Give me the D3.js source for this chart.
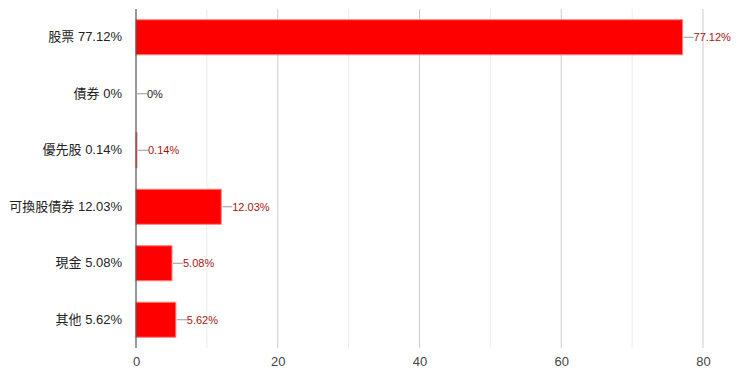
<!DOCTYPE html>
<html>
<head>
<meta charset="utf-8">
<script src="https://cdn.jsdelivr.net/npm/d3@7"></script>
<style>
  body { margin: 0; background: #fff; }
  text { font-family: "Liberation Sans", Arial, "Noto Sans CJK TC", sans-serif; }
</style>
</head>
<body>
<svg></svg>
<script>
// categories and values
var categories = ["股票 77.12%", "債券 0%", "優先股 0.14%", "可換股債券 12.03%", "現金 5.08%", "其他 5.62%"];
var values = [77.12, 0, 0.14, 12.03, 5.08, 5.62];
var valueLabels = ["77.12%", "0%", "0.14%", "12.03%", "5.08%", "5.62%"];
var xTicks = [0, 20, 40, 60, 80];
var minorTicks = [10, 30, 50, 70];

var svgWidth = 740, svgHeight = 377;
var margin = {top: 9, right: 37, bottom: 29, left: 136};

var svg = d3.select("svg")
    .attr("width", svgWidth)
    .attr("height", svgHeight);

var x = d3.scaleLinear()
    .domain([0, 80])
    .range([margin.left, margin.left + 567]);

var y = d3.scaleBand()
    .domain(categories)
    .range([margin.top, svgHeight - margin.bottom])
    .paddingInner(0.38)
    .paddingOuter(0.19);

// gridlines
svg.selectAll("line.minor")
    .data(minorTicks)
    .enter().append("line")
    .attr("x1", function(d) { return x(d); })
    .attr("x2", function(d) { return x(d); })
    .attr("y1", margin.top)
    .attr("y2", svgHeight - margin.bottom)
    .attr("stroke", "#ececec");

svg.selectAll("line.major")
    .data(xTicks.slice(1))
    .enter().append("line")
    .attr("x1", function(d) { return x(d); })
    .attr("x2", function(d) { return x(d); })
    .attr("y1", margin.top)
    .attr("y2", svgHeight - margin.bottom)
    .attr("stroke", "#cccccc");

// x axis tick labels
var xAxis = d3.axisBottom(x).tickValues(xTicks).tickSize(0).tickPadding(9);
var gx = svg.append("g")
    .attr("transform", "translate(0," + (svgHeight - margin.bottom) + ")")
    .call(xAxis);
gx.select(".domain").remove();
gx.selectAll("text").attr("fill", "#444").style("font-size", "13px");

// category labels
var yAxis = d3.axisLeft(y).tickSize(0).tickPadding(14);
var gy = svg.append("g")
    .attr("transform", "translate(" + margin.left + ",0)")
    .call(yAxis);
gy.select(".domain").remove();
gy.selectAll("text").attr("fill", "#222").style("font-size", "13px");

// bars
svg.selectAll("rect.bar")
    .data(values)
    .enter().append("rect")
    .attr("class", "bar")
    .attr("x", x(0))
    .attr("y", function(d, i) { return y(categories[i]); })
    .attr("width", function(d) { return x(d) - x(0); })
    .attr("height", y.bandwidth())
    .attr("fill", "#ff0000")
    .attr("stroke", function(d) { return d > 0 ? "#ff8080" : "none"; })
    .attr("stroke-width", 1);

// leader lines + value labels
svg.selectAll("line.lead")
    .data(values)
    .enter().append("line")
    .attr("x1", function(d) { return x(d) + 1; })
    .attr("x2", function(d) { return x(d) + 11; })
    .attr("y1", function(d, i) { return y(categories[i]) + y.bandwidth() / 2; })
    .attr("y2", function(d, i) { return y(categories[i]) + y.bandwidth() / 2; })
    .attr("stroke", "#999");

svg.selectAll("text.val")
    .data(values)
    .enter().append("text")
    .attr("x", function(d) { return x(d) + 11; })
    .attr("y", function(d, i) { return y(categories[i]) + y.bandwidth() / 2; })
    .attr("dy", "0.35em")
    .attr("fill", function(d) { return d > 0 ? "#a31515" : "#222"; })
    .style("font-size", "11px")
    .text(function(d, i) { return valueLabels[i]; });

// baseline
svg.append("line")
    .attr("x1", x(0)).attr("x2", x(0))
    .attr("y1", margin.top)
    .attr("y2", svgHeight - margin.bottom)
    .attr("stroke", "#333");
</script>
</body>
</html>
